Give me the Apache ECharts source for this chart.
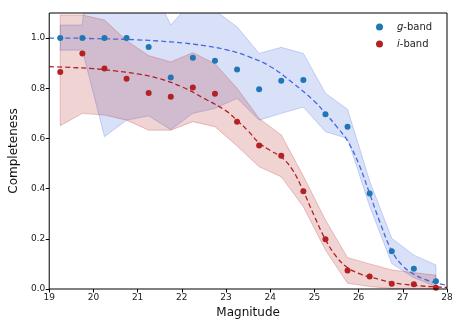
<!DOCTYPE html>
<html>
<head>
<meta charset="utf-8">
<script src="https://cdn.jsdelivr.net/npm/echarts@6/dist/echarts.min.js"></script>
<style>
  html, body { margin: 0; padding: 0; background: #fff; }
  #chart { width: 463px; height: 331px; }
</style>
</head>
<body>
<div id="chart"></div>
<script>
// magnitude bins (centres)
const bins = [19.25, 19.75, 20.25, 20.75, 21.25, 21.75, 22.25, 22.75, 23.25,
              23.75, 24.25, 24.75, 25.25, 25.75, 26.25, 26.75, 27.25, 27.75];

// measured completeness
const gComp = [1.0, 1.0, 1.0, 1.0, 0.964, 0.843, 0.922, 0.910, 0.875,
               0.796, 0.830, 0.833, 0.696, 0.647, 0.381, 0.150, 0.081, 0.031];
const iComp = [0.865, 0.939, 0.879, 0.838, 0.781, 0.766, 0.803, 0.778, 0.667,
               0.572, 0.531, 0.390, 0.198, 0.074, 0.050, 0.021, 0.019, 0.005];

// shaded ranges
const gLow  = [0.952, 0.952, 0.607, 0.673, 0.690, 0.635, 0.700, 0.720, 0.760,
               0.673, 0.700, 0.725, 0.627, 0.600, 0.330, 0.102, 0.045, 0.010];
const gHigh = [1.052, 1.052, 2.100, 1.400, 1.233, 1.052, 1.151, 1.110, 1.045,
               0.939, 0.963, 0.939, 0.780, 0.716, 0.430, 0.202, 0.135, 0.096];
const iLow  = [0.651, 0.700, 0.693, 0.673, 0.633, 0.633, 0.667, 0.647, 0.570,
               0.487, 0.447, 0.328, 0.155, 0.023, 0.010, 0.002, 0.0, 0.0];
const iHigh = [1.092, 1.092, 1.072, 0.990, 0.930, 0.905, 0.942, 0.898, 0.800,
               0.680, 0.614, 0.450, 0.275, 0.125, 0.100, 0.076, 0.065, 0.055];

// fitted curves
const gFitX = [19.0, 19.5, 20.0, 20.5, 21.0, 21.5, 22.0, 22.5, 23.0, 23.5, 24.0, 24.5,
               25.0, 25.25, 25.5, 25.75, 26.0, 26.25, 26.5, 26.75, 27.0, 27.25, 27.5, 27.75, 28.0];
const gFitY = [1.0, 1.0, 0.998, 0.996, 0.993, 0.988, 0.981, 0.970, 0.954, 0.927, 0.887, 0.823,
               0.748, 0.700, 0.648, 0.590, 0.500, 0.380, 0.258, 0.152, 0.092, 0.059, 0.038, 0.024, 0.015];
const iFitX = [19.0, 19.5, 20.0, 20.5, 21.0, 21.5, 22.0, 22.5, 23.0, 23.25, 23.5, 23.75, 24.0,
               24.25, 24.5, 24.75, 25.0, 25.25, 25.5, 25.75, 26.0, 26.25, 26.5, 26.75, 27.0, 27.5, 28.0];
const iFitY = [0.886, 0.883, 0.878, 0.869, 0.857, 0.838, 0.806, 0.760, 0.710, 0.672, 0.630, 0.582, 0.552,
               0.526, 0.476, 0.390, 0.290, 0.197, 0.128, 0.085, 0.062, 0.048, 0.037, 0.026, 0.019, 0.011, 0.006];

const xTicks = [19, 20, 21, 22, 23, 24, 25, 26, 27, 28];
const yTicks = [0, 0.2, 0.4, 0.6, 0.8, 1.0];

const font = 'DejaVu Sans';
const pairs = (xs, ys) => xs.map((x, i) => [x, ys[i]]);

// one polygon per band, clipped to the plot area
function band(lo, hi, fill, edge) {
    return {
        type: 'custom',
        data: [[bins[0], lo[0]]],
        clip: true,
        silent: true,
        z: 1,
        renderItem: function (params, api) {
            const pts = [];
            bins.forEach((x, i) => pts.push(api.coord([x, hi[i]])));
            for (let i = bins.length - 1; i >= 0; i--) pts.push(api.coord([bins[i], lo[i]]));
            const cs = params.coordSys;
            return {
                type: 'polygon',
                shape: { points: pts },
                style: { fill: fill, stroke: edge, lineWidth: 1 },
                clipPath: { type: 'rect', shape: { x: cs.x, y: cs.y, width: cs.width, height: cs.height } }
            };
        }
    };
}

const chart = echarts.init(document.getElementById('chart'), null, { renderer: 'canvas' });
chart.setOption({
    animation: false,
    backgroundColor: '#fff',
    grid: { left: 47, right: 16, top: 13, bottom: 42, show: true, borderColor: '#000', borderWidth: 1, z: 10 },
    legend: {
        data: ['g-band', 'i-band'],
        orient: 'vertical',
        left: 371,
        top: 17,
        icon: 'circle',
        itemWidth: 7,
        itemHeight: 7,
        itemGap: 7,
        formatter: name => name === 'g-band' ? '{it|g}-band' : '{it|i}-band',
        textStyle: {
            fontFamily: font, fontSize: 10, color: '#222', padding: [0, 0, 0, 9],
            rich: { it: { fontFamily: font, fontSize: 10, fontStyle: 'italic', color: '#222' } }
        }
    },
    xAxis: {
        type: 'value',
        min: 19, max: 28, interval: 1,
        name: 'Magnitude',
        nameLocation: 'middle',
        nameGap: 17,
        nameTextStyle: { fontFamily: font, fontSize: 12, color: '#111' },
        axisLine: { show: false },
        axisTick: { show: true, length: 3.5, lineStyle: { color: '#000' }, customValues: xTicks },
        axisLabel: { fontFamily: font, fontSize: 9, color: '#222', margin: 4, customValues: xTicks },
        splitLine: { show: false }
    },
    yAxis: {
        type: 'value',
        min: 0, max: 1.1, interval: 0.2,
        name: 'Completeness',
        nameLocation: 'middle',
        nameGap: 23,
        nameTextStyle: { fontFamily: font, fontSize: 12, color: '#111' },
        axisLine: { show: false },
        axisTick: { show: true, length: 3.5, lineStyle: { color: '#000' }, customValues: yTicks },
        axisLabel: { fontFamily: font, fontSize: 9, color: '#222', margin: 4,
                     formatter: v => v.toFixed(1), customValues: yTicks },
        splitLine: { show: false }
    },
    series: [
        band(gLow, gHigh, 'rgba(65,105,225,0.2)', 'rgba(65,105,225,0.25)'),
        band(iLow, iHigh, 'rgba(178,34,34,0.2)', 'rgba(178,34,34,0.25)'),
        {
            name: 'g-fit', type: 'line', data: pairs(gFitX, gFitY),
            showSymbol: false, smooth: 0.4, z: 3,
            lineStyle: { color: '#4169e1', width: 1.3, type: [5, 3] }
        },
        {
            name: 'i-fit', type: 'line', data: pairs(iFitX, iFitY),
            showSymbol: false, smooth: 0.4, z: 3,
            lineStyle: { color: '#b22222', width: 1.3, type: [5, 3] }
        },
        {
            name: 'g-band', type: 'scatter', data: pairs(bins, gComp),
            symbolSize: 6, z: 4, itemStyle: { color: '#1f77b4', opacity: 1 }
        },
        {
            name: 'i-band', type: 'scatter', data: pairs(bins, iComp),
            symbolSize: 6, z: 4, itemStyle: { color: '#b22222', opacity: 1 }
        }
    ]
});
</script>
</body>
</html>
